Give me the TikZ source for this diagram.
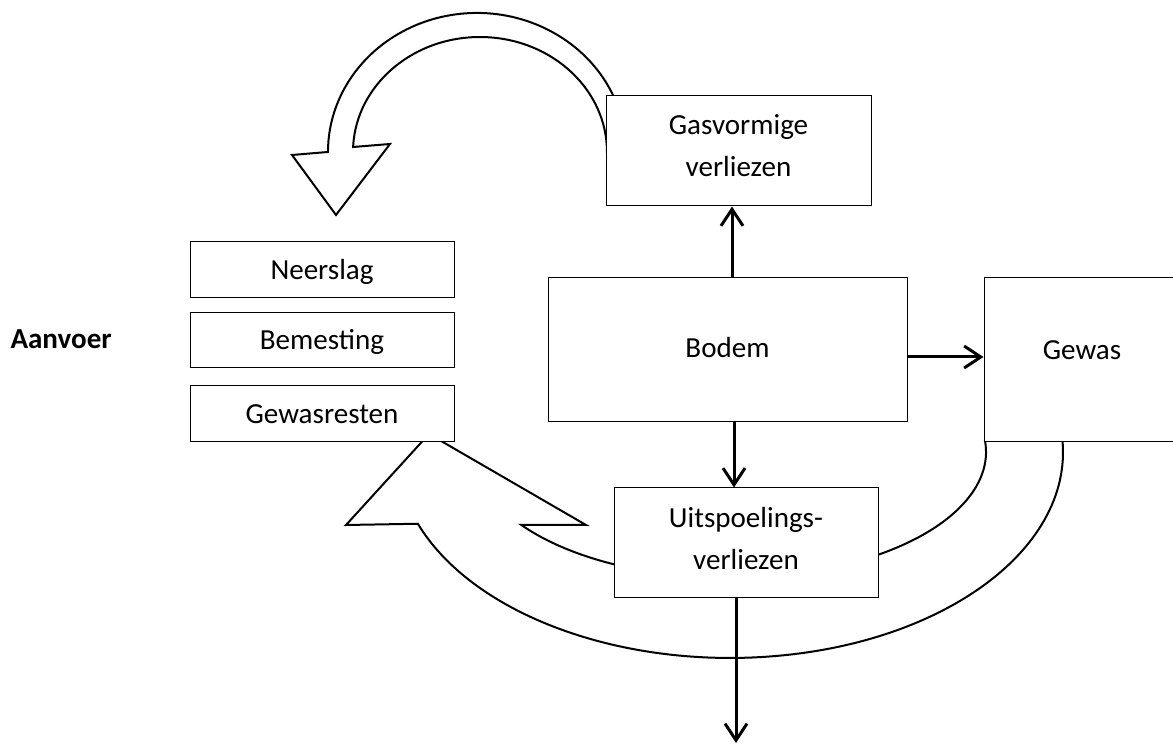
\documentclass[tikz,border=0pt]{standalone}
\usepackage{fontspec}
\setmainfont{Carlito}
\usetikzlibrary{arrows.meta}
\tikzset{
  box/.style={draw, fill=white, line width=0.75pt, inner sep=0pt, align=center,
    font=\fontsize{21.8pt}{31.5pt}\selectfont},
  onebox/.style={box, text height=14pt, text depth=0pt},
  bigarrow/.style={draw, fill=white, line width=1.5pt, line join=miter},
  conn/.style={line width=2.25pt, -{Straight Barb[length=12.5pt,width=16.5pt,line width=2.25pt]}},
  plainline/.style={line width=2.25pt}
}
\begin{document}
\begin{tikzpicture}[x=0.75pt,y=0.75pt]
\useasboundingbox (0,0) rectangle (1173,745);
\clip (0,0) rectangle (1173,745);
% top curved arrow (Gasvormige verliezen -> aanvoer)
\draw[bigarrow] (620.9,629.0) arc[start angle=15, end angle=180, x radius=149, y radius=139]
  -- (292,590) -- (336,530) -- (390,601) -- (353.1,598)
  arc[start angle=177.5, end angle=0, x radius=127, y radius=115] -- cycle;
% bottom curved arrow (Gewas -> Gewasresten)
\draw[bigarrow] (1061.7,311.0) arc[start angle=5, end angle=-159.6, x radius=333, y radius=206]
  -- (346,220) -- (429,311) -- (586,220) -- (521.1,220.2)
  arc[start angle=-144.7, end angle=5, x radius=256, y radius=126] -- cycle;
% boxes
\node[box, minimum width=198.75pt, minimum height=82.5pt] (gas) at (738.5,594)
  {Gasvormige\\verliezen\rule[-7.5pt]{0pt}{0pt}};
\node[box, minimum width=269.25pt, minimum height=108pt, text height=14pt, text depth=3pt] (bodem) at (727.5,395) {Bodem};
\node[box, minimum width=147pt, minimum height=123pt, text height=14pt, text depth=15pt] (gewas) at (1082,385) {Gewas};
\node[onebox, minimum width=198pt, minimum height=42pt] (neerslag) at (322,475) {Neerslag};
\node[onebox, minimum width=198pt, minimum height=41.25pt] (bemesting) at (322,404.5) {Bemesting};
\node[onebox, minimum width=198pt, minimum height=42pt] (gewasresten) at (322,331) {Gewasresten};
\node[box, minimum width=198pt, minimum height=82.5pt] (uits) at (746,202)
  {Uitspoelings-\\verliezen\rule[-7.5pt]{0pt}{0pt}};
\node[anchor=base east, inner sep=0pt, font=\fontsize{21.8pt}{26pt}\selectfont\bfseries] (aanvoer) at (112,396) {Aanvoer};
% connectors
\coordinate (xa) at (732,0);
\coordinate (xb) at (734,0);
\coordinate (xc) at (736,0);
\coordinate (ya) at (0,388);
\coordinate (outend) at (736,2);
\draw[conn] (bodem.north -| xa) -- (gas.south -| xa);
\draw[conn] (bodem.east |- ya) -- (gewas.west |- ya);
\draw[conn] (bodem.south -| xb) -- (uits.north -| xb);
\draw[conn] (uits.south -| xc) -- (outend);
\end{tikzpicture}
\end{document}
